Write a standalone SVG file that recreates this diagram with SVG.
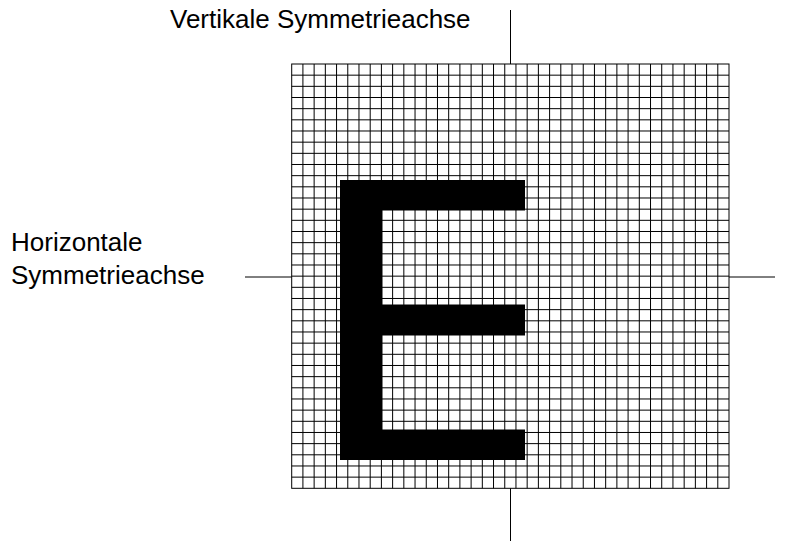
<svg xmlns="http://www.w3.org/2000/svg" width="785" height="542" viewBox="0 0 785 542">
<style>
.lbl{font-family:"Liberation Sans",Arial,sans-serif;font-size:26px;fill:#000}
.grid{fill:none;stroke:#000;stroke-width:1}
.axis{fill:none;stroke:#000;stroke-width:1}
</style>
<rect width="785" height="542" fill="#fff"/>
<g id="raster">
<rect x="291.7" y="64" width="437.3" height="424.3" class="grid"/>
<path class="grid" d="M302.91,64V488.3M314.13,64V488.3M325.34,64V488.3M336.55,64V488.3M347.77,64V488.3M358.98,64V488.3M370.19,64V488.3M381.4,64V488.3M392.62,64V488.3M403.83,64V488.3M415.04,64V488.3M426.26,64V488.3M437.47,64V488.3M448.68,64V488.3M459.9,64V488.3M471.11,64V488.3M482.32,64V488.3M493.53,64V488.3M504.75,64V488.3M515.96,64V488.3M527.17,64V488.3M538.39,64V488.3M549.6,64V488.3M560.81,64V488.3M572.03,64V488.3M583.24,64V488.3M594.45,64V488.3M605.66,64V488.3M616.88,64V488.3M628.09,64V488.3M639.3,64V488.3M650.52,64V488.3M661.73,64V488.3M672.94,64V488.3M684.16,64V488.3M695.37,64V488.3M706.58,64V488.3M717.79,64V488.3"/>
<path class="grid" d="M291.7,75.17H729M291.7,86.33H729M291.7,97.5H729M291.7,108.66H729M291.7,119.83H729M291.7,130.99H729M291.7,142.16H729M291.7,153.33H729M291.7,164.49H729M291.7,175.66H729M291.7,186.82H729M291.7,197.99H729M291.7,209.16H729M291.7,220.32H729M291.7,231.49H729M291.7,242.65H729M291.7,253.82H729M291.7,264.99H729M291.7,276.15H729M291.7,287.32H729M291.7,298.48H729M291.7,309.65H729M291.7,320.82H729M291.7,331.98H729M291.7,343.15H729M291.7,354.31H729M291.7,365.48H729M291.7,376.65H729M291.7,387.81H729M291.7,398.98H729M291.7,410.14H729M291.7,421.31H729M291.7,432.48H729M291.7,443.64H729M291.7,454.81H729M291.7,465.97H729M291.7,477.14H729"/>
</g>
<g id="letter-e">
<path d="M340,180H525V210.5H382.5V304.5H525V335.5H382.5V429.5H525V460H340Z" fill="#000"/>
</g>
<g id="axes">
<path class="axis" d="M510.5,10V64M510.5,488.3V541"/>
<path class="axis" d="M245,277H291.7M729,277H775"/>
</g>
<g id="label-vertical">
<text class="lbl" x="170" y="28">Vertikale Symmetrieachse</text>
</g>
<g id="label-horizontal">
<text class="lbl" x="11" y="251">Horizontale</text>
<text class="lbl" x="11" y="284">Symmetrieachse</text>
</g>
</svg>
